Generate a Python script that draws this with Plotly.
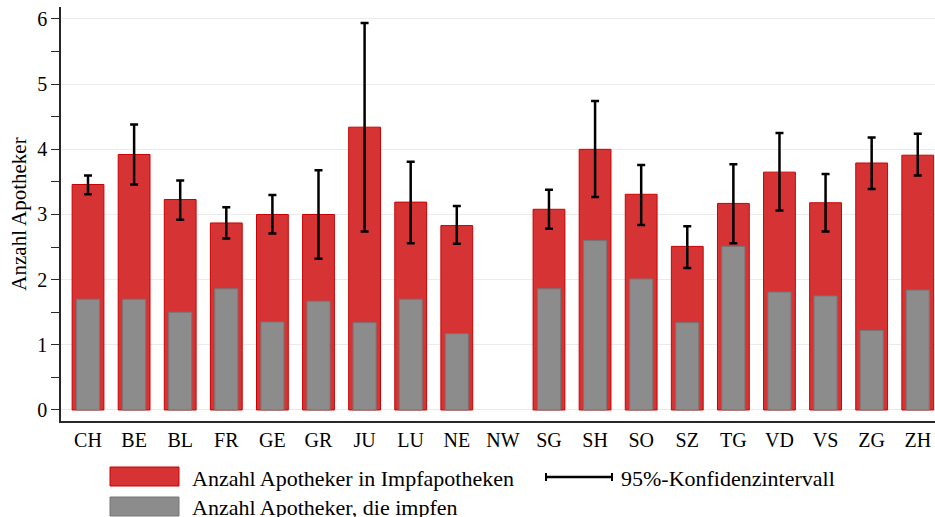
import plotly.graph_objects as go

categories = ["CH", "BE", "BL", "FR", "GE", "GR", "JU", "LU", "NE", "NW",
              "SG", "SH", "SO", "SZ", "TG", "VD", "VS", "ZG", "ZH"]
apotheker_impfapotheken = [3.46, 3.92, 3.23, 2.87, 3.00, 3.00, 4.34, 3.19, 2.83, None,
                           3.08, 4.00, 3.31, 2.51, 3.17, 3.65, 3.18, 3.79, 3.91]
apotheker_impfen = [1.70, 1.70, 1.50, 1.86, 1.35, 1.67, 1.34, 1.70, 1.17, None,
                    1.86, 2.60, 2.01, 1.34, 2.51, 1.81, 1.75, 1.22, 1.84]
ci_upper = [3.60, 4.38, 3.52, 3.11, 3.30, 3.68, 5.94, 3.81, 3.13, None,
            3.38, 4.74, 3.76, 2.82, 3.77, 4.25, 3.62, 4.18, 4.24]
ci_lower = [3.31, 3.46, 2.92, 2.63, 2.71, 2.32, 2.74, 2.56, 2.55, None,
            2.78, 3.27, 2.84, 2.18, 2.56, 3.06, 2.74, 3.39, 3.60]

legend_labels = ["Anzahl Apotheker in Impfapotheken", "Anzahl Apotheker, die impfen",
                 "95%-Konfidenzintervall"]
y_title = "Anzahl Apotheker"

RED = "rgb(214,52,52)"
RED_LINE = "rgb(204,0,0)"
GRAY = "rgb(140,140,140)"
GRAY_LINE = "rgb(118,118,118)"
FONT = "Liberation Serif"

err_plus = [None if (u is None or v is None) else u - v for u, v in zip(ci_upper, apotheker_impfapotheken)]
err_minus = [None if (l is None or v is None) else v - l for l, v in zip(ci_lower, apotheker_impfapotheken)]

fig = go.Figure()
fig.add_trace(go.Bar(
    x=categories, y=apotheker_impfapotheken, width=0.69,
    marker=dict(color=RED, line=dict(color=RED_LINE, width=1)),
    name=legend_labels[0],
))
fig.add_trace(go.Bar(
    x=categories, y=apotheker_impfen, width=0.5,
    marker=dict(color=GRAY, line=dict(color=GRAY_LINE, width=1)),
    name=legend_labels[1],
))
fig.add_trace(go.Scatter(
    x=categories, y=apotheker_impfapotheken, mode="markers",
    marker=dict(size=1, opacity=0),
    error_y=dict(type="data", symmetric=False, array=err_plus, arrayminus=err_minus,
                 color="black", thickness=2.5, width=4),
    name=legend_labels[2], hoverinfo="skip",
))

# manual legend in paper coords (plot area 874 x 414 px, from x=61, y=7)
def px_x(p):
    return (p - 61) / 874.0

def px_y(p):
    return (421 - p) / 414.0

shapes = [
    dict(type="rect", xref="paper", yref="paper",
         x0=px_x(110), x1=px_x(179), y0=px_y(467), y1=px_y(486),
         fillcolor=RED, line=dict(color=RED_LINE, width=1)),
    dict(type="rect", xref="paper", yref="paper",
         x0=px_x(110), x1=px_x(179), y0=px_y(497), y1=px_y(516),
         fillcolor=GRAY, line=dict(color=GRAY_LINE, width=1)),
    dict(type="line", xref="paper", yref="paper",
         x0=px_x(545), x1=px_x(613), y0=px_y(477), y1=px_y(477),
         line=dict(color="black", width=2.5)),
    dict(type="line", xref="paper", yref="paper",
         x0=px_x(546), x1=px_x(546), y0=px_y(473), y1=px_y(481),
         line=dict(color="black", width=2)),
    dict(type="line", xref="paper", yref="paper",
         x0=px_x(612), x1=px_x(612), y0=px_y(473), y1=px_y(481),
         line=dict(color="black", width=2)),
]
annotations = [
    dict(text=legend_labels[0], xref="paper", yref="paper", x=px_x(190), y=px_y(478),
         xanchor="left", yanchor="middle", showarrow=False,
         font=dict(family=FONT, size=22, color="black")),
    dict(text=legend_labels[1], xref="paper", yref="paper", x=px_x(190), y=px_y(507),
         xanchor="left", yanchor="middle", showarrow=False,
         font=dict(family=FONT, size=22, color="black")),
    dict(text=legend_labels[2], xref="paper", yref="paper", x=px_x(619), y=px_y(478),
         xanchor="left", yanchor="middle", showarrow=False,
         font=dict(family=FONT, size=22, color="black")),
]

fig.update_layout(
    width=935, height=517,
    margin=dict(l=61, r=0, t=7, b=96, pad=0),
    barmode="overlay",
    showlegend=False,
    hovermode=False,
    plot_bgcolor="white", paper_bgcolor="white",
    font=dict(family=FONT, size=21, color="black"),
    shapes=shapes, annotations=annotations,
)
fig.update_xaxes(
    type="category", categoryorder="array", categoryarray=categories,
    range=[-0.586, 18.374],
    showline=True, linecolor="rgb(40,40,40)", linewidth=1.5,
    ticks="", showgrid=False,
    tickfont=dict(family=FONT, size=20, color="black"),
)
fig.update_yaxes(
    range=[-0.169, 6.184],
    tickvals=[0, 1, 2, 3, 4, 5, 6],
    showline=True, linecolor="rgb(40,40,40)", linewidth=1.5,
    ticks="outside", ticklen=8, tickwidth=1.2, tickcolor="rgb(40,40,40)",
    minor=dict(dtick=0.5, ticks="outside", ticklen=8, tickwidth=1.2,
               tickcolor="rgb(40,40,40)", showgrid=False),
    showgrid=True, gridcolor="rgb(235,235,235)", gridwidth=1,
    zeroline=False,
    tickfont=dict(family=FONT, size=20, color="black"),
    title=dict(text=y_title, font=dict(family=FONT, size=21, color="black"), standoff=5),
)

fig.write_html(
    "out.html",
    config={"displayModeBar": False},
    post_script="document.body.style.margin='0';document.body.style.overflow='hidden';",
)
